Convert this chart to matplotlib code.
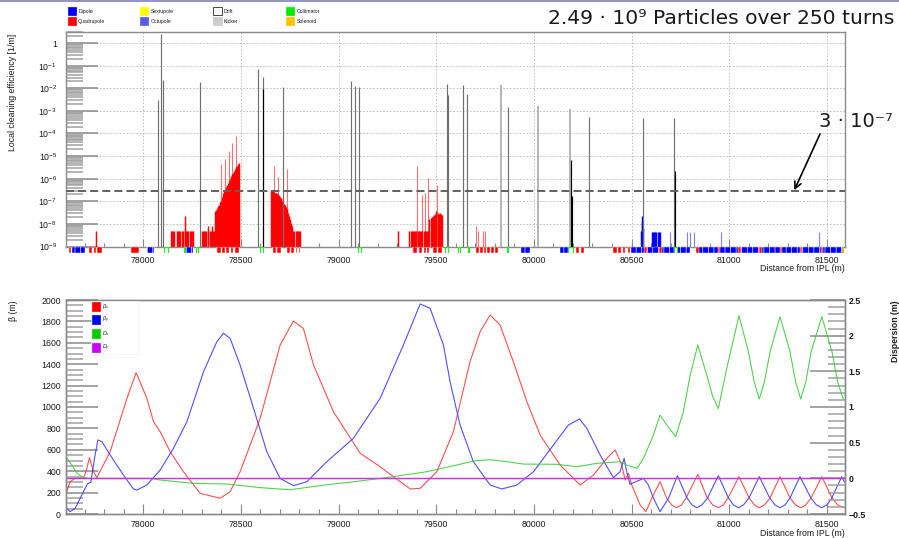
import matplotlib
matplotlib.use("Agg")
import numpy as np
import matplotlib.pyplot as plt
from matplotlib.patches import Rectangle
from matplotlib.ticker import MultipleLocator, FixedLocator, LogLocator, NullFormatter, FuncFormatter

# ---------------------------------------------------------------- data
# collimator-type loss spikes (position [m], log10 of local cleaning efficiency [1/m])
coll_dark_s = [78075, 78089, 78099, 78293, 78590, 78611, 78716, 79064, 79086, 79104,
               79557, 79561, 79639, 79660, 79866, 80284, 80560, 80719]
coll_dark_log = [-2.51, 0.42, -1.63, -1.70, -1.15, -1.48, -1.95, -1.66, -1.89, -1.95,
                 -1.81, -2.31, -1.85, -2.25, -2.83, -3.25, -3.32, -3.32]
coll_light_s = [79831, 80020, 80185]
coll_light_log = [-1.85, -2.78, -2.91]
coll_black_s = [78612, 80190, 80193, 80721]
coll_black_log = [-2.03, -5.18, -6.77, -5.67]

# quadrupole losses (red histogram)
quad_loss_s = [77760,
               78140, 78146, 78152, 78158, 78172, 78178, 78184, 78190, 78200, 78206, 78212, 78215,
               78220, 78226, 78232, 78238, 78244, 78250, 78255,
               78300, 78306, 78312, 78318, 78324, 78330, 78334, 78340, 78346, 78351, 78357, 78362,
               78366, 78371, 78376, 78381, 78386, 78391, 78396, 78401, 78406, 78411, 78416, 78421,
               78426, 78431, 78436, 78441, 78446, 78451, 78456, 78461, 78466, 78471, 78476, 78481,
               78486, 78490,
               78653, 78658, 78663, 78668, 78673, 78678, 78683, 78688, 78693, 78698, 78703, 78708,
               78713, 78718, 78723, 78728, 78733, 78738, 78743, 78748, 78753, 78758, 78763, 78768,
               78774, 78780, 78786, 78792, 78798, 78803,
               79307, 79363, 79369, 79375, 79381, 79387, 79393, 79399, 79405, 79411, 79417, 79423,
               79429, 79435, 79441, 79447, 79453, 79459, 79465, 79471, 79477, 79483, 79489, 79495,
               79501, 79507, 79513, 79519, 79525, 79529]
quad_loss_log = [-8.33,
                 -8.33, -8.33, -8.33, -8.33, -8.33, -8.33, -8.33, -8.33, -8.33, -8.33, -8.33, -7.64,
                 -8.33, -8.33, -8.33, -8.33, -8.33, -8.33, -8.33,
                 -8.33, -8.33, -8.33, -8.33, -8.33, -8.33, -8.10, -8.33, -8.33, -8.10, -8.33, -8.33,
                 -7.45, -7.40, -7.30, -7.20, -7.15, -7.05, -7.00, -6.90, -6.80, -6.65, -6.55, -6.50,
                 -6.38, -6.30, -6.20, -6.10, -6.00, -5.90, -5.80, -5.75, -5.65, -5.55, -5.48, -5.42,
                 -5.35, -5.30,
                 -6.48, -6.50, -6.55, -6.60, -6.62, -6.65, -6.65, -6.70, -6.72, -6.80, -6.85, -6.92,
                 -7.00, -7.05, -7.10, -7.15, -7.25, -7.35, -7.50, -7.65, -7.80, -7.95, -8.10, -8.30,
                 -8.33, -8.33, -8.33, -8.33, -8.33, -8.33,
                 -8.33, -8.33, -8.33, -8.33, -8.33, -8.33, -8.33, -8.33, -8.33, -8.33, -8.33, -8.33,
                 -8.33, -8.33, -8.33, -8.33, -8.33, -8.33, -7.80, -7.75, -7.70, -7.65, -7.60, -7.55,
                 -7.45, -7.50, -7.55, -7.50, -7.55, -7.60]
quad_peak_s = [78397, 78418, 78437, 78454, 78474, 78670, 78691, 78735,
               79404, 79426, 79445, 79460, 79506, 79704, 79716, 79740, 79748]
quad_peak_log = [-5.35, -5.12, -4.79, -4.42, -4.10, -5.42, -5.93, -5.56,
                 -5.45, -6.70, -6.65, -5.96, -6.26, -8.10, -8.33, -8.33, -8.33]

# dipole losses (blue histogram)
dip_loss_s = [80549, 80552, 80555, 80558, 80603, 80609, 80615, 80621, 80627, 80633, 80639, 80645]
dip_loss_log = [-8.30, -7.90, -7.63, -8.20, -8.34, -8.34, -8.34, -8.34, -8.34, -8.34, -8.34, -8.34]
dip_peak_s = [80697, 80784, 80800, 80820, 80956, 81461]
dip_peak_log = [-8.34, -8.34, -8.34, -8.34, -8.34, -8.34]

threshold = 3e-7

# machine layout strip (start, end) [m]
quad_start = [77621, 77725, 77749, 77763, 77939, 78377, 78406, 78426, 78449, 78469, 78667, 78687,
              78735, 78759, 78781, 78797, 79383, 79411, 79435, 79453, 79486, 79511, 79704, 79725,
              79744, 79762, 79782, 79800, 80216, 80240, 80404, 80431, 80455, 80481, 80566, 80642,
              80830, 80944, 81047, 81154, 81260, 81362, 81468]
quad_end = [77631, 77737, 77759, 77789, 77980, 78399, 78420, 78441, 78462, 78491, 78681, 78705,
            78752, 78774, 78790, 78803, 79404, 79426, 79446, 79464, 79503, 79528, 79718, 79739,
            79756, 79775, 79794, 79814, 80233, 80257, 80424, 80445, 80467, 80492, 80578, 80654,
            80844, 80953, 81059, 81166, 81272, 81374, 81478]
dip_start = [77638, 78022, 78220, 79935, 80134, 80497, 80578, 80654, 80731, 80844, 80953, 81059,
             81166, 81272, 81374, 81478]
dip_end = [77703, 78058, 78257, 79981, 80177, 80566, 80642, 80717, 80799, 80944, 81047, 81154,
           81260, 81362, 81468, 81575]
colm_start = [78109, 78210, 78271, 78599, 79102, 79545, 79612, 79665, 79864, 80177, 80717]
colm_end = [78126, 78216, 78283, 78611, 79114, 79562, 79622, 79670, 79869, 80202, 80731]
sol_start = [81575]
sol_end = [81589]

# optics
s_betx = [77606, 77626, 77652, 77694, 77708, 77725, 77746, 77763, 77831, 77917, 77964, 78019,
          78053, 78087, 78138, 78206, 78292, 78394, 78445, 78496, 78599, 78701, 78769, 78820,
          78872, 78974, 79111, 79213, 79281, 79367, 79418, 79503, 79588, 79673, 79725, 79776,
          79827, 79895, 79964, 80032, 80134, 80237, 80305, 80373, 80416, 80450, 80467, 80484,
          80501, 80544, 80574, 80603, 80646, 80680, 80705, 80731, 80756, 80782, 80839, 80885,
          80915, 80944, 80970, 80994, 81050, 81102, 81128, 81154, 81180, 81209, 81260, 81311,
          81339, 81366, 81392, 81419, 81474, 81526, 81555, 81584]
betx = [193, 302, 333, 333, 400, 526, 395, 340, 582, 1081, 1321, 1081,
        863, 769, 582, 395, 193, 147, 208, 395, 894, 1579, 1804, 1735,
        1393, 956, 567, 442, 349, 234, 240, 395, 769, 1423, 1704, 1860,
        1766, 1423, 1050, 738, 458, 271, 364, 520, 598, 458, 318, 380,
        271, 84, 22, 147, 302, 147, 85, 59, 85, 160, 371, 160,
        85, 59, 85, 150, 349, 150, 85, 59, 85, 150, 349, 150,
        85, 59, 85, 150, 349, 150, 85, 59]
s_bety = [77606, 77626, 77652, 77686, 77715, 77732, 77751, 77768, 77789, 77831, 77899, 77950,
          77968, 78019, 78087, 78155, 78224, 78309, 78377, 78411, 78445, 78496, 78565, 78633,
          78701, 78769, 78838, 78940, 79076, 79213, 79332, 79418, 79469, 79537, 79571, 79622,
          79690, 79776, 79836, 79913, 79998, 80100, 80177, 80233, 80271, 80339, 80407, 80441,
          80462, 80475, 80492, 80561, 80586, 80612, 80646, 80689, 80735, 80784, 80809, 80834,
          80860, 80889, 80944, 80996, 81021, 81047, 81073, 81101, 81154, 81207, 81234, 81260,
          81286, 81311, 81362, 81418, 81446, 81474, 81500, 81525, 81576, 81590]
bety = [59, 22, 53, 178, 283, 296, 520, 692, 676, 551, 364, 234,
        224, 271, 411, 614, 863, 1330, 1610, 1689, 1642, 1393, 988, 582,
        333, 265, 302, 489, 707, 1081, 1579, 1963, 1922, 1579, 1236, 832,
        489, 271, 234, 271, 395, 645, 832, 888, 801, 551, 340, 395,
        520, 395, 278, 333, 271, 147, 22, 147, 358, 150, 85, 59,
        85, 150, 358, 150, 85, 59, 85, 150, 349, 150, 85, 59,
        85, 150, 349, 150, 85, 59, 85, 150, 349, 300]
s_dx = [77606, 77635, 77661, 77694, 77729, 78036, 78087, 78257, 78428, 78599, 78752, 78940,
        79111, 79281, 79452, 79606, 79690, 79776, 79861, 79946, 80117, 80220, 80322, 80441,
        80475, 80527, 80561, 80612, 80646, 80680, 80726, 80765, 80800, 80839, 80885, 80915,
        80944, 80987, 81050, 81098, 81128, 81154, 81180, 81209, 81260, 81311, 81340, 81366,
        81392, 81419, 81474, 81526, 81555, 81584]
dx = [0.30, 0.187, 0.07, 0.01, 0.0, 0.0, -0.023, -0.07, -0.08, -0.13, -0.16, -0.09,
      -0.037, 0.023, 0.093, 0.187, 0.243, 0.261, 0.233, 0.20, 0.197, 0.163, 0.21, 0.233,
      0.187, 0.14, 0.28, 0.607, 0.888, 0.748, 0.584, 0.934, 1.448, 1.869, 1.448, 1.15,
      0.98, 1.54, 2.28, 1.775, 1.35, 1.112, 1.35, 1.775, 2.266, 1.775, 1.35, 1.112,
      1.35, 1.775, 2.266, 1.775, 1.35, 1.112]
s_dy = [77606, 81590]
dy = [0.0, 0.0]

# ---------------------------------------------------------------- style
plt.rcParams['font.family'] = ['Liberation Sans', 'DejaVu Sans']
plt.rcParams['mathtext.fontset'] = 'custom'
plt.rcParams['mathtext.rm'] = 'Liberation Sans'
plt.rcParams['mathtext.it'] = 'Liberation Sans:italic'
plt.rcParams['mathtext.bf'] = 'Liberation Sans:bold'
plt.rcParams['hatch.linewidth'] = 0.45
plt.rcParams['hatch.color'] = 'white'
plt.rcParams['lines.scale_dashes'] = False

W, H = 899, 538
fig = plt.figure(figsize=(W / 100, H / 100), dpi=100)


def fx(px):
    return px / W


def fy(py):
    return 1 - py / H


XL, XR = 66, 844.5
SMIN, SMAX = 77605, 81590
GRAY = '#8a8a8a'
TXT = '#1a1a1a'

# top banner line
fig.add_artist(Rectangle((0, fy(2.2)), 1, 2.2 / H, transform=fig.transFigure,
                         facecolor='#9494c4', edgecolor='none'))

# ---------------------------------------------------------------- top panel
ax1 = fig.add_axes([fx(XL), fy(246.5), fx(XR) - fx(XL), fy(32.3) - fy(246.5)])
ax1.set_yscale('log')
ax1.set_xlim(SMIN, SMAX)
ax1.set_ylim(1e-9, 3.0)

ax1.vlines(coll_dark_s, 1e-9, 10 ** np.array(coll_dark_log), color='#707070', lw=0.85, zorder=3)
ax1.vlines(coll_light_s, 1e-9, 10 ** np.array(coll_light_log), color='#b0b0b0', lw=1.3, zorder=3)
ax1.vlines(coll_black_s, 1e-9, 10 ** np.array(coll_black_log), color='black', lw=0.85, zorder=4)
ax1.vlines(quad_peak_s, 1e-9, 10 ** np.array(quad_peak_log), color='#ff7070', lw=0.8, zorder=2)
ax1.vlines(quad_loss_s, 1e-9, 10 ** np.array(quad_loss_log), color='#ff0000', lw=1.05, zorder=2)
ax1.vlines(dip_peak_s, 1e-9, 10 ** np.array(dip_peak_log), color='#8080ff', lw=0.8, zorder=2)
ax1.vlines(dip_loss_s, 1e-9, 10 ** np.array(dip_loss_log), color='#0000ff', lw=1.05, zorder=2)
ax1.axhline(threshold, color='#606060', lw=1.4, ls=(0, (5.8, 2.9)), zorder=5)

ax1.yaxis.set_major_locator(FixedLocator([10.0 ** k for k in range(-9, 1)]))
ax1.yaxis.set_minor_locator(LogLocator(base=10, subs=np.arange(2, 10), numticks=30))
ax1.yaxis.set_minor_formatter(NullFormatter())
ax1.yaxis.set_major_formatter(FuncFormatter(
    lambda v, p: '1' if abs(np.log10(v)) < 0.01 else r'$10^{%d}$' % round(np.log10(v))))
ax1.xaxis.set_major_locator(MultipleLocator(500))
ax1.xaxis.set_minor_locator(MultipleLocator(100))
ax1.tick_params(axis='y', which='major', direction='in', length=23, width=1.1, color=GRAY,
                labelsize=6.3, pad=6.5, labelcolor=TXT)
ax1.tick_params(axis='y', which='minor', direction='in', length=12, width=1.1, color='#a0a0a0')
ax1.tick_params(axis='x', which='major', direction='in', length=6, width=0.8, color=GRAY,
                labelsize=6.3, pad=7.0, labelcolor=TXT)
ax1.tick_params(axis='x', which='minor', direction='in', length=3, width=0.8, color=GRAY)
ax1.grid(True, which='major', color='#b8b8b8', lw=0.6, ls=(0, (1.2, 1.2)))
for sp in ax1.spines.values():
    sp.set_color(GRAY)
    sp.set_linewidth(1.0)
ax1.set_axisbelow(True)

# annotation
ax1.annotate('', xy=(81333, 3.1e-7), xytext=(fx(820), fy(134)), textcoords='figure fraction',
             arrowprops=dict(arrowstyle='->', lw=1.2, color='black', shrinkA=0, shrinkB=0,
                             mutation_scale=12))
fig.text(fx(893), fy(127), '3 \u00b7 10\u207b\u2077', ha='right', va='baseline', fontsize=14,
         family='DejaVu Sans', color=TXT)

# layout strip
axs = fig.add_axes([fx(XL), fy(253), fx(XR) - fx(XL), 6 / H], sharex=ax1)
axs.set_ylim(0, 1)
axs.axis('off')
axs.broken_barh([(a, b - a) for a, b in zip(quad_start, quad_end)], (0, 1),
                facecolor='#ff0000', edgecolor='white', linewidth=0.3)
axs.broken_barh([(a, b - a) for a, b in zip(dip_start, dip_end)], (0, 1),
                facecolor='#0000ff', edgecolor='white', linewidth=0.3, hatch='|||')
axs.broken_barh([(a, b - a) for a, b in zip(colm_start, colm_end)], (0, 1),
                facecolor='none', edgecolor='#22ee22', linewidth=0.8)
axs.broken_barh([(a, b - a) for a, b in zip(sol_start, sol_end)], (0, 1),
                facecolor='#ffa500', edgecolor='none')

fig.text(fx(XR), fy(264), 'Distance from IPL (m)', ha='right', va='top', fontsize=6.3, color=TXT)
fig.text(fx(13), fy(34), 'Local cleaning efficiency [1/m]', rotation=90, ha='center', va='top',
         fontsize=6.3, color=TXT)

# title
fig.text(fx(894), fy(24), '2.49 \u00b7 10\u2079 Particles over 250 turns', ha='right',
         va='baseline', fontsize=14.6, family='DejaVu Sans', color=TXT)

# element legend
leg_items = [((67.7, 7.3), '#0000ff', 'Dipole'), ((67.7, 17.3), '#ff0000', 'Quadrupole'),
             ((140, 7.3), '#ffff00', 'Sextupole'), ((140, 17.3), '#5c5ce0', 'Octupole'),
             ((213.3, 7.3), 'white', 'Drift'), ((213.3, 17.3), '#cccccc', 'Kicker'),
             ((286, 7.3), '#00ee00', 'Collimator'), ((286, 17.3), '#ffc400', 'Solenoid')]
for (px, py), col, lab in leg_items:
    ec = 'black' if col == 'white' else col
    fig.add_artist(Rectangle((fx(px), fy(py + 7.7)), 8.3 / W, 7.7 / H, transform=fig.transFigure,
                             facecolor=col, edgecolor=ec, lw=0.5))
    fig.text(fx(px + 10.5), fy(py + 4.0), lab, fontsize=3.7, ha='left', va='center', color=TXT)

# ---------------------------------------------------------------- bottom panel
ax2 = fig.add_axes([fx(XL), fy(514), fx(XR) - fx(XL), fy(300) - fy(514)])
ax2.set_xlim(SMIN, SMAX)
ax2.set_ylim(0, 2000)
ax2.plot(s_betx, betx, color='#ff3030', lw=0.8, alpha=0.85)
ax2.plot(s_bety, bety, color='#3030ff', lw=0.8, alpha=0.85)
ax3 = ax2.twinx()
ax3.set_ylim(-0.5, 2.5)
ax3.plot(s_dx, dx, color='#30cc30', lw=0.8, alpha=0.85)
ax3.plot(s_dy, dy, color='#dd22ff', lw=1.0)

ax2.xaxis.set_major_locator(MultipleLocator(500))
ax2.xaxis.set_minor_locator(MultipleLocator(100))
ax2.yaxis.set_major_locator(MultipleLocator(200))
ax2.yaxis.set_minor_locator(MultipleLocator(50))
ax3.yaxis.set_major_locator(MultipleLocator(0.5))
ax3.yaxis.set_minor_locator(MultipleLocator(0.1))
ax3.yaxis.set_major_formatter(FuncFormatter(lambda v, p: ('%g' % v).replace('-', '\u2212')))
ax2.tick_params(axis='y', which='major', direction='in', length=23, width=1.1, color=GRAY,
                labelsize=6.3, pad=3.6, labelcolor=TXT)
ax2.tick_params(axis='y', which='minor', direction='in', length=12, width=1.1, color='#a0a0a0')
ax2.tick_params(axis='x', which='major', direction='in', length=7, width=0.8, color=GRAY,
                labelsize=6.3, pad=4.0, labelcolor=TXT)
ax2.tick_params(axis='x', which='minor', direction='in', length=3.5, width=0.8, color=GRAY)
ax3.tick_params(axis='y', which='major', direction='in', length=25, width=1.1, color=GRAY,
                labelsize=6.3, pad=3.0, labelcolor=TXT)
ax3.tick_params(axis='y', which='minor', direction='in', length=12, width=1.1, color='#a0a0a0')
for lab in ax3.get_yticklabels():
    lab.set_fontweight('bold')
for a in (ax2, ax3):
    for sp in a.spines.values():
        sp.set_color(GRAY)
        sp.set_linewidth(1.0)

fig.text(fx(XR), fy(528.5), 'Distance from IPL (m)', ha='right', va='top', fontsize=6.3, color=TXT)
fig.text(fx(14), fy(300), '\u03b2 (m)', rotation=90, ha='center', va='top', fontsize=6.3, color=TXT)
fig.text(fx(895), fy(300), 'Dispersion (m)', rotation=90, ha='center', va='top', fontsize=6.3,
         fontweight='bold', color=TXT)

# optics legend
fig.add_artist(Rectangle((fx(90.5), fy(354)), 48 / W, 53 / H, transform=fig.transFigure,
                         facecolor='white', edgecolor='#f0f0f0', lw=0.5))
opt_items = [(302.3, '#ff0000', r'$\beta_{x}$'), (315.3, '#0000ff', r'$\beta_{y}$'),
             (329.3, '#00cc00', r'$D_{x}$'), (343.3, '#cc00ff', r'$D_{y}$')]
for py, col, lab in opt_items:
    fig.add_artist(Rectangle((fx(91.7), fy(py + 8.3)), 8.3 / W, 8.3 / H, transform=fig.transFigure,
                             facecolor=col, edgecolor=col, lw=0.5))
    fig.text(fx(101.5), fy(py + 4.2), lab, fontsize=3.8, ha='left', va='center', color=TXT)

fig.savefig('out.png', dpi=100)
